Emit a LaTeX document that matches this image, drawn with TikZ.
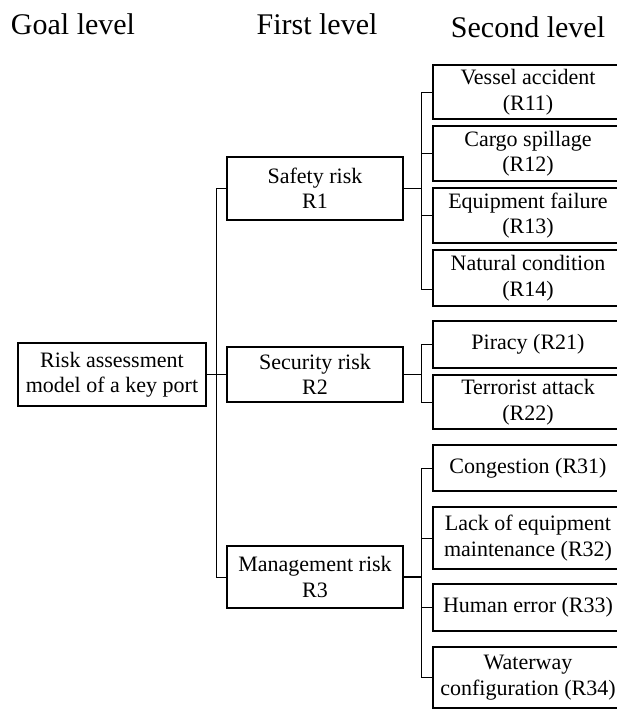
\documentclass[tikz,border=0pt]{standalone}
\usepackage{fontspec}
\setmainfont{Liberation Serif}
\begin{document}
\begin{tikzpicture}[x=1pt,y=-1pt,
  box/.style={draw,line width=1.1pt,inner sep=0pt,align=center,
    font=\fontsize{22}{25.5}\selectfont,minimum width=#1},
  box/.default=176,
  leaf/.style={box=190},
  hdr/.style={anchor=base,inner sep=0pt,font=\fontsize{30}{36}\selectfont},
  conn/.style={line width=0.9pt},
  trunk/.style={line width=1.4pt}]
\useasboundingbox (0,0) rectangle (617,711);
\clip (0,0) rectangle (617,711);
% headers
\node[hdr] (h0) at (73,35) {Goal level};
\node[hdr] (h1) at (317,35) {First level};
\node[hdr] (h2) at (528,38) {Second level};
% goal
\node[box=188,minimum height=63] (goal) at (112,374.5) {Risk assessment\\model of a key port};
% first level
\node[box,minimum height=63] (R1) at (315,188.5) {Safety risk\\R1};
\node[box,minimum height=55] (R2) at (315,374.5) {Security risk\\R2};
\node[box,minimum height=62] (R3) at (315,577) {Management risk\\R3};
% second level
\node[leaf,minimum height=54] (R11) at (528,92) {Vessel accident\\(R11)};
\node[leaf,minimum height=55] (R12) at (528,153.5) {Cargo spillage\\(R12)};
\node[leaf,minimum height=55] (R13) at (528,215.5) {Equipment failure\\(R13)};
\node[leaf,minimum height=56] (R14) at (528,278) {Natural condition\\(R14)};
\node[leaf,minimum height=47] (R21) at (528,344.5) {Piracy (R21)};
\node[leaf,minimum height=54] (R22) at (528,402) {Terrorist attack\\(R22)};
\node[leaf,minimum height=46] (R31) at (528,468) {Congestion (R31)};
\node[leaf,minimum height=62] (R32) at (528,538) {Lack of equipment\\maintenance (R32)};
\node[leaf,minimum height=47] (R33) at (528,607.5) {Human error (R33)};
\node[leaf,minimum height=61] (R34) at (528,677.5) {Waterway\\configuration (R34)};
% goal connectors
\coordinate (g) at (216,374.5);
\draw[trunk] (goal.east) -- (g);
\draw[conn] (R1.west) -| (g);
\draw[conn] (R3.west) -| (g);
\draw[conn] (R2.west) -- (g);
% R1 bracket
\coordinate (b1) at (421,188.5);
\draw[trunk] (R1.east) -- (b1);
\foreach \n in {R11,R12,R13} \draw[conn] (\n.west) -| (b1);
\draw[conn] ([yshift=-11pt]R14.west) -| (b1);
% R2 bracket
\coordinate (b2) at (421,374.5);
\draw[trunk] (R2.east) -- (b2);
\foreach \n in {R21,R22} \draw[conn] (\n.west) -| (b2);
% R3 bracket
\coordinate (b3) at (421,577);
\draw[trunk] (R3.east) -- (b3);
\foreach \n in {R31,R32,R33,R34} \draw[conn] (\n.west) -| (b3);
\end{tikzpicture}
\end{document}
